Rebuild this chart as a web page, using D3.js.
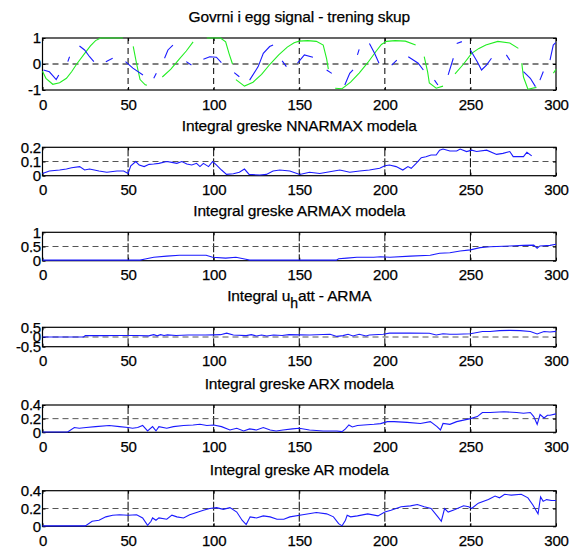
<!DOCTYPE html>
<html>
<head>
<meta charset="utf-8">
<script src="https://cdn.jsdelivr.net/npm/d3@7"></script>
<style>
  body { margin: 0; background: #fff; }
  svg { display: block; }
  text { font-family: "Liberation Sans", Arial, sans-serif; fill: #000; stroke: #000; stroke-width: 0.25px; }
</style>
</head>
<body>
<div id="chart"></div>
<script>
// Panel 1: egg signal (green) and model output (blue), null = gap in the line
const greenT = [0, 2, 6, 10, 14, 17, 20, 24, 28, 31, 34, 47, null,
  53, 55, 57, 60, 61, null,
  70, 75, 80, 84, 88, null,
  96, 104, 107, 109, 111, null,
  113, 118, 123, 128, 133, 138, 143, 147, 150, 155, 160, 164, 166, 167, null,
  171, 175, 180, 185, 190, 195, 198, 201, 206, 212, 218, null,
  223, 225, 226, 230, 234, null,
  241, 246, 250.7, 255, 259, 266, 273, 278, null,
  280, 281, 283.6, 288.6, null,
  298.5, 300];
const greenV = [-0.28, -0.55, -0.78, -0.72, -0.55, -0.3, 0.0, 0.35, 0.7, 0.9, 1.0, 1.0, null,
  0.68, 0.0, -0.6, -0.8, -0.82, null,
  -0.5, -0.2, 0.2, 0.5, 0.85, null,
  1.0, 1.0, 0.85, 0.4, 0.0, null,
  -0.6, -0.85, -0.7, -0.4, 0.0, 0.35, 0.65, 0.82, 0.88, 0.9, 0.87, 0.73, 0.2, -0.2, null,
  -0.93, -0.95, -0.7, -0.35, 0.05, 0.5, 0.75, 0.87, 0.9, 0.88, 0.73, null,
  0.28, -0.3, -0.73, -0.93, -0.85, null,
  -0.38, 0.0, 0.41, 0.6, 0.73, 0.87, 0.81, 0.6, null,
  0.03, -0.5, -0.97, -0.9, null,
  -0.35, -0.2];

const blueT = [0.6, 4, 6, 8, 9.5, null, 14.8, 15.8, null, 21.6, 24.6, 27.5, 30, null,
  37, 41, null, 48.5, 52.8, 58.7, null, 65, 66.5, null, 71.3, 73.3, 76.2, null,
  84, 87, null, 94, 97.7, 101.6, 104.5, null, 112, 115, null,
  121, 126, 129, 132.7, 134.7, null, 140, 142.5, null, 149, 153, 158, null,
  166, 169, null, 176.6, 179.5, 181.4, null, 184, 185, null, 191, 194, 196.6, null,
  204, 207, null, 213.7, 219.5, 222.5, null, 229, 231, null, 237, 240, null,
  242, 245, null, 250, 254, 256.5, 259.4, 262.3, null, 271, 273, null,
  281, 285, 288, null, 290.6, 292.6, null, 296.5, 298.4, 299.8];
const blueV = [-0.23, -0.3, -0.45, -0.6, -0.42, null, 0.09, 0.28, null, 0.69, 0.54, 0.28, 0.09, null,
  0.09, 0.22, null, 0.09, -0.16, -0.42, null, -0.55, -0.36, null, 0.22, 0.54, 0.73, null,
  0.09, -0.04, null, 0.18, 0.28, 0.26, 0.05, null, -0.33, -0.49, null,
  -0.62, -0.1, 0.41, 0.67, 0.73, null, 0.12, -0.1, null, 0.03, 0.35, 0.26, null,
  -0.23, -0.36, null, -0.81, -0.36, -0.23, null, 0.35, 0.56, null, 0.79, 0.41, 0.03, null,
  -0.04, 0.15, null, 0.28, 0.03, -0.23, null, -0.62, -0.81, null, -0.42, 0.22, null,
  0.79, 0.86, null, 0.54, 0.09, -0.23, -0.04, 0.22, null, 0.35, 0.15, null,
  -0.29, -0.55, -0.87, null, -0.62, -0.29, null, 0.15, 0.73, 0.82];

// Panel 2: NNARMAX error integral
const nnarmaxT = [0, 4, 10, 14, 17, 21.7, 24.6, 27.5, 33, 37.6, 43.5, 47.4, 50, 51.6, 54.5, 56.5, 59.4,
  62.3, 65, 68, 72.6, 75.6, 78.5, 81.4, 84.3, 87.2, 90, 92, 94, 97, 99.4, 101.7, 104.6, 107.5,
  111.5, 115, 118, 120.7, 127, 130.8, 134.7, 138.6, 144.5, 150.3, 156, 162, 167.8, 173.7, 179.5,
  185.3, 191, 197, 200, 202.7, 206.6, 210.5, 213.5, 215.4, 218.3, 221.3, 224, 227, 230, 232, 234,
  238, 242, 244, 247.8, 250.7, 253.6, 259.5, 265.3, 269, 273, 275, 279, 281, 283, 285.8];
const nnarmaxV = [0.016, 0.033, 0.04, 0.047, 0.056, 0.064, 0.04, 0.047, 0.033, 0.024, 0.033, 0.033, 0.016,
  0.07, 0.1, 0.075, 0.064, 0.08, 0.082, 0.087, 0.1, 0.094, 0.087, 0.1, 0.082, 0.075, 0.087, 0.064,
  0.087, 0.064, 0.1, 0.075, 0.04, 0.009, 0.014, 0.024, 0.047, 0.009, 0.005, 0.009, 0.033, 0.04,
  0.033, 0.009, 0.024, 0.016, 0.028, 0.04, 0.024, 0.033, 0.04, 0.052, 0.07, 0.075, 0.064, 0.04,
  0.064, 0.052, 0.087, 0.127, 0.134, 0.146, 0.146, 0.18, 0.188, 0.174, 0.174, 0.188, 0.17, 0.18,
  0.17, 0.18, 0.15, 0.157, 0.17, 0.134, 0.134, 0.134, 0.165, 0.14];

// Panel 3: ARMAX error integral
const armaxT = [0, 20, 40, 57, 60, 65, 72.6, 80, 88, 95.6, 99.4, 107, 113, 118.8, 121, 140, 160, 171.7,
  173, 177.8, 183.7, 193.5, 197.5, 203, 215, 226.5, 232, 238, 244, 250, 255.6, 261.5, 273, 281,
  287, 289, 290.6, 296.5, 300];
const armaxV = [0.02, 0.02, 0.02, 0.02, 0.06, 0.12, 0.16, 0.19, 0.19, 0.19, 0.12, 0.09, 0.12, 0.05, 0.02,
  0.02, 0.02, 0.02, 0.07, 0.09, 0.12, 0.12, 0.14, 0.12, 0.16, 0.19, 0.26, 0.28, 0.34, 0.38, 0.46,
  0.49, 0.52, 0.54, 0.55, 0.44, 0.52, 0.54, 0.58];

// Panel 4: u_h att - ARMA
const armaT = [0, 12, 24, 25, 35, 45, 55, 62, 65, 67, 69, 71, 73, 78, 85, 95, 100, 104, 107.6, 111.5,
  119, 122, 125, 128, 131, 135, 140, 144, 156, 168, 172, 175.6, 178.5, 181.4, 185, 189, 191, 199,
  202.7, 214.4, 226, 230, 234, 238, 242, 250, 257, 261.5, 267, 273, 279, 285, 289, 293, 296.5, 300];
const armaV = [0.0, 0.0, 0.0, 0.07, 0.07, 0.08, 0.08, 0.06, 0.12, 0.06, 0.12, 0.08, 0.11, 0.08, 0.1, 0.1,
  0.11, 0.12, 0.2, 0.1, 0.07, 0.12, 0.05, 0.1, 0.05, 0.1, 0.08, 0.12, 0.1, 0.14, 0.03, 0.07, 0.14,
  0.05, 0.14, 0.05, 0.1, 0.14, 0.2, 0.2, 0.19, 0.1, 0.17, 0.14, 0.14, 0.17, 0.28, 0.28, 0.33, 0.34,
  0.33, 0.28, 0.16, 0.28, 0.26, 0.29];

// Panel 5: ARX error integral
const arxT = [0, 14.7, 18.6, 21.5, 25.5, 31, 39, 45, 50, 52.6, 55.6, 58.5, 61.4, 64.3, 66.3, 68, 72.6,
  76.5, 82.4, 88, 92, 96, 100, 104.6, 109.5, 113.5, 117.5, 121, 125, 129, 133, 136.5, 140.5, 146,
  150, 156, 164, 172, 175, 177, 179, 181, 184, 187.8, 193.7, 197.5, 201.5, 205.4, 213, 220.8, 226.6,
  230.5, 232.5, 234, 238, 242, 250, 254, 257, 261.5, 269.5, 277, 281, 285, 287, 289, 290.7, 293,
  295, 296.5, 300];
const arxV = [0.005, 0.005, 0.07, 0.06, 0.07, 0.083, 0.1, 0.083, 0.07, 0.06, 0.07, 0.1, 0.02, 0.083, 0.02,
  0.083, 0.06, 0.083, 0.1, 0.107, 0.117, 0.1, 0.107, 0.083, 0.034, 0.06, 0.02, 0.05, 0.034, 0.07,
  0.034, 0.02, 0.034, 0.05, 0.06, 0.034, 0.02, 0.02, 0.01, 0.05, 0.107, 0.078, 0.1, 0.107, 0.117,
  0.127, 0.156, 0.156, 0.146, 0.13, 0.156, 0.083, 0.034, 0.13, 0.117, 0.156, 0.2, 0.23, 0.29, 0.29,
  0.3, 0.29, 0.28, 0.29, 0.23, 0.117, 0.26, 0.21, 0.25, 0.25, 0.27];

// Panel 6: AR error integral
const arT = [0, 25, 29, 33, 37, 41, 45, 50, 55, 58.5, 61.4, 63.4, 64.3, 66.3, 68, 72.6, 75.6, 78.5, 82.4,
  86, 90, 94, 97.7, 101.7, 105.6, 109.5, 113.5, 116.6, 119, 121.3, 125, 129, 133, 137, 141, 144.5,
  152, 160, 166, 170, 173, 175, 177, 178, 180, 184, 190, 196, 200, 203.6, 209.5, 215, 219, 223, 227,
  231, 233, 234.9, 237, 241, 246, 249, 250.7, 254.6, 260.5, 264.4, 267, 270, 273.9, 279.7, 283.6,
  286.5, 289.5, 291, 292.5, 294.5, 297.4, 300];
const arV = [0.005, 0.005, 0.057, 0.068, 0.106, 0.125, 0.13, 0.125, 0.13, 0.094, 0.01, 0.057, 0.094,
  0.068, 0.094, 0.08, 0.125, 0.106, 0.094, 0.13, 0.155, 0.18, 0.2, 0.21, 0.19, 0.21, 0.16, 0.068,
  0.02, 0.106, 0.094, 0.117, 0.106, 0.08, 0.08, 0.106, 0.13, 0.155, 0.14, 0.106, 0.03, 0.005, 0.068,
  0.125, 0.106, 0.117, 0.14, 0.117, 0.16, 0.18, 0.22, 0.23, 0.245, 0.22, 0.2, 0.106, 0.057, 0.2,
  0.16, 0.19, 0.23, 0.22, 0.2, 0.26, 0.3, 0.34, 0.32, 0.36, 0.35, 0.36, 0.32, 0.24, 0.14, 0.33,
  0.28, 0.3, 0.29, 0.29];

const xTicks = [0, 50, 100, 150, 200, 250, 300];

const panels = [
  { title: "Govrni i egg signal - trening skup", top: 38, bottom: 90, domain: [-1, 1], ticks: [-1, 0, 1], ref: 0,
    series: [{ t: greenT, v: greenV, color: "#22ee22" }, { t: blueT, v: blueV, color: "#1a1aff" }] },
  { title: "Integral greske NNARMAX modela", top: 147.3, bottom: 175.7, domain: [0, 0.2], ticks: [0, 0.1, 0.2], ref: 0.1,
    series: [{ t: nnarmaxT, v: nnarmaxV, color: "#1a1aff" }] },
  { title: "Integral greske ARMAX modela", top: 232.3, bottom: 260.7, domain: [0, 1], ticks: [0, 0.5, 1], ref: 0.5,
    series: [{ t: armaxT, v: armaxV, color: "#1a1aff" }] },
  { title: null, top: 327.3, bottom: 346.7, domain: [-0.5, 0.5], ticks: [-0.5, 0, 0.5], ref: 0,
    series: [{ t: armaT, v: armaV, color: "#1a1aff" }] },
  { title: "Integral greske ARX modela", top: 405, bottom: 432.3, domain: [0, 0.4], ticks: [0, 0.2, 0.4], ref: 0.2,
    series: [{ t: arxT, v: arxV, color: "#1a1aff" }] },
  { title: "Integral greske AR modela", top: 490.7, bottom: 526.3, domain: [0, 0.4], ticks: [0, 0.2, 0.4], ref: 0.2,
    series: [{ t: arT, v: arV, color: "#1a1aff" }] }
];

const width = 585, height = 552;
const left = 42.5, right = 556;

const svg = d3.select("#chart").append("svg")
  .attr("width", width)
  .attr("height", height);

const x = d3.scaleLinear().domain([0, 300]).range([left, right]);
const fmt = d => String(d);

panels.forEach((p, idx) => {
  const y = d3.scaleLinear().domain(p.domain).range([p.bottom, p.top]);
  const g = svg.append("g");

  // grid: vertical at inner x ticks, horizontal at reference level
  g.selectAll("line.vgrid")
    .data(xTicks.slice(1, -1)).enter()
    .append("line")
    .attr("x1", d => x(d)).attr("x2", d => x(d))
    .attr("y1", p.top).attr("y2", p.bottom)
    .attr("stroke", "#000")
    .attr("stroke-width", 1)
    .attr("stroke-dasharray", idx === 0 ? "6,4" : "9,2");

  g.append("line")
    .attr("x1", left).attr("x2", right)
    .attr("y1", y(p.ref)).attr("y2", y(p.ref))
    .attr("stroke", idx === 0 ? "#000" : "#555")
    .attr("stroke-width", 1)
    .attr("stroke-dasharray", "6,4");

  // axes (MATLAB style: inward ticks, box)
  const xAxis = d3.axisBottom(x).tickValues(xTicks).tickFormat(fmt).tickSizeInner(-3).tickSizeOuter(0).tickPadding(9);
  const xTop = d3.axisTop(x).tickValues(xTicks).tickFormat("").tickSizeInner(-3).tickSizeOuter(0);
  const yAxis = d3.axisLeft(y).tickValues(p.ticks).tickFormat(fmt).tickSizeInner(-3).tickSizeOuter(0).tickPadding(1.5);
  const yRight = d3.axisRight(y).tickValues(p.ticks).tickFormat("").tickSizeInner(-3).tickSizeOuter(0);

  const ax = [
    g.append("g").attr("transform", `translate(0,${p.bottom})`).call(xAxis),
    g.append("g").attr("transform", `translate(0,${p.top})`).call(xTop),
    g.append("g").attr("transform", `translate(${left},0)`).call(yAxis),
    g.append("g").attr("transform", `translate(${right},0)`).call(yRight)
  ];
  ax.forEach(a => {
    a.select(".domain").remove();
    a.selectAll("line").attr("stroke", "#000");
    a.selectAll("text")
      .style("font-family", '"Liberation Sans", Arial, sans-serif')
      .style("font-size", "15px")
      .style("letter-spacing", "-0.2px")
      .attr("fill", "#000");
  });
  ax[0].selectAll("text").attr("dy", "0.71em");

  g.append("rect")
    .attr("x", left).attr("y", p.top)
    .attr("width", right - left).attr("height", p.bottom - p.top)
    .attr("fill", "none")
    .attr("stroke", "#000")
    .attr("stroke-width", 1.2);

  // data lines, drawn over the box like the reference
  p.series.forEach(s => {
    const pts = s.t.map((t, i) => ({ t: t, v: s.v[i] }));
    const line = d3.line()
      .defined(d => d.t !== null && d.v !== null)
      .x(d => x(d.t))
      .y(d => y(d.v));
    g.append("path")
      .datum(pts)
      .attr("fill", "none")
      .attr("stroke", s.color)
      .attr("stroke-width", 1.1)
      .attr("d", line);
  });

  // title
  const title = g.append("text")
    .attr("x", (left + right) / 2)
    .attr("y", p.title ? p.top - 16 : p.top - 26)
    .attr("text-anchor", "middle")
    .style("font-size", "15.5px")
    .style("letter-spacing", "-0.15px");
  if (p.title) {
    title.text(p.title);
  } else {
    title.append("tspan").text("Integral u");
    title.append("tspan").attr("dy", 7).style("font-size", "14px").text("h");
    title.append("tspan").attr("dy", -7).text("att - ARMA");
  }
});
</script>
</body>
</html>
